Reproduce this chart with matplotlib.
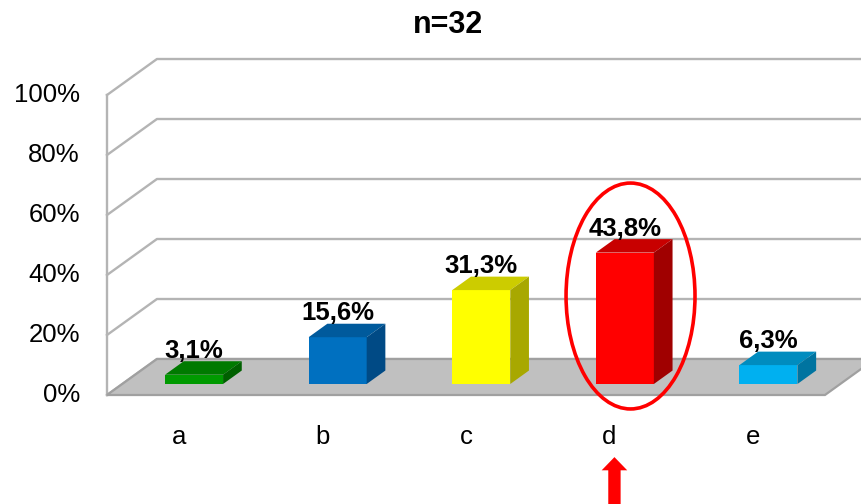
import matplotlib.pyplot as plt
from matplotlib.patches import Polygon, Ellipse

plt.rcParams['font.family'] = ['Liberation Sans', 'DejaVu Sans']

# data
categories = ['a', 'b', 'c', 'd', 'e']
values = [3.1, 15.6, 31.3, 43.8, 6.3]
value_labels = ['3,1%', '15,6%', '31,3%', '43,8%', '6,3%']
front_colors = ['#009a00', '#0070c0', '#ffff00', '#ff0000', '#00b0f0']
top_colors = ['#007a00', '#005a9c', '#cccc00', '#c80000', '#008cbf']
side_colors = ['#006000', '#004a85', '#a8a800', '#a00000', '#0074a0']
yticks = [0, 20, 40, 60, 80, 100]
title = 'n=32'
highlight = 3  # index of circled bar

# fake 3d: depth w in 0..1 shifts points right and up
DU = 0.348
DV = 12.0


def proj(u, v, w):
    return (u + DU * w, v + DV * w)


fig = plt.figure(figsize=(8.62, 5.04), dpi=100)
ax = fig.add_axes([0, 0, 1, 1])
ax.set_xlim(-0.745, 5.258)
ax.set_ylim(-36.33, 131.67)
ax.axis('off')

grid_col = '#b4b4b4'
n = len(categories)

# floor
floor = [proj(0, 0, 0), proj(n, 0, 0), proj(n, 0, 1), proj(0, 0, 1)]
ax.add_patch(Polygon(floor, closed=True, fc='#c0c0c0', ec='#a0a0a0', lw=1.6, zorder=1))

# back wall + left wall grid lines
for t in yticks:
    x0, y0 = proj(0, t, 0)
    x1, y1 = proj(0, t, 1)
    x2, y2 = proj(n, t, 1)
    ax.plot([x0, x1, x2], [y0, y1, y2], color=grid_col, lw=1.7, zorder=0.5)
ax.plot([0, 0], [0, max(yticks)], color=grid_col, lw=1.7, zorder=0.5)

# bars
hw = 0.202
wf, wb = 0.306, 0.68
xs = [i + 0.5 for i in range(n)]
fx = [proj(x, 0, wf)[0] for x in xs]
ax.bar(fx, values, width=2 * hw, bottom=DV * wf, color=front_colors, zorder=3)
for i, (x, v) in enumerate(zip(xs, values)):
    top = [proj(x - hw, v, wf), proj(x + hw, v, wf), proj(x + hw, v, wb), proj(x - hw, v, wb)]
    side = [proj(x + hw, 0, wf), proj(x + hw, v, wf), proj(x + hw, v, wb), proj(x + hw, 0, wb)]
    ax.add_patch(Polygon(top, closed=True, fc=top_colors[i], ec='none', zorder=3))
    ax.add_patch(Polygon(side, closed=True, fc=side_colors[i], ec='none', zorder=3))
    lx, ly = proj(x, v, wb)
    ax.text(fx[i], ly + 1.2, value_labels[i], ha='center', va='baseline',
            fontsize=18.5, fontweight='bold', zorder=5)
    ax.text(x, -14, categories[i], ha='center', va='center', fontsize=18.5)

# y tick labels
for t in yticks:
    ax.text(-0.188, t, f'{t}%', ha='right', va='center', fontsize=18.5)

ax.text(2.375, 123.3, title, ha='center', va='center', fontsize=22, fontweight='bold')

# highlight ellipse and arrow
cx = xs[highlight] + 0.146
ax.add_patch(Ellipse((cx, 33), 0.898, 75.3, fill=False, ec='#ff0000', lw=2.6, zorder=6))
ax.arrow(xs[highlight] + 0.034, -37, 0, 16.3, width=0.086, head_width=0.178,
         head_length=4.4, length_includes_head=True, fc='#ff0000', ec='none', zorder=6)

fig.savefig('out.png', dpi=100)
